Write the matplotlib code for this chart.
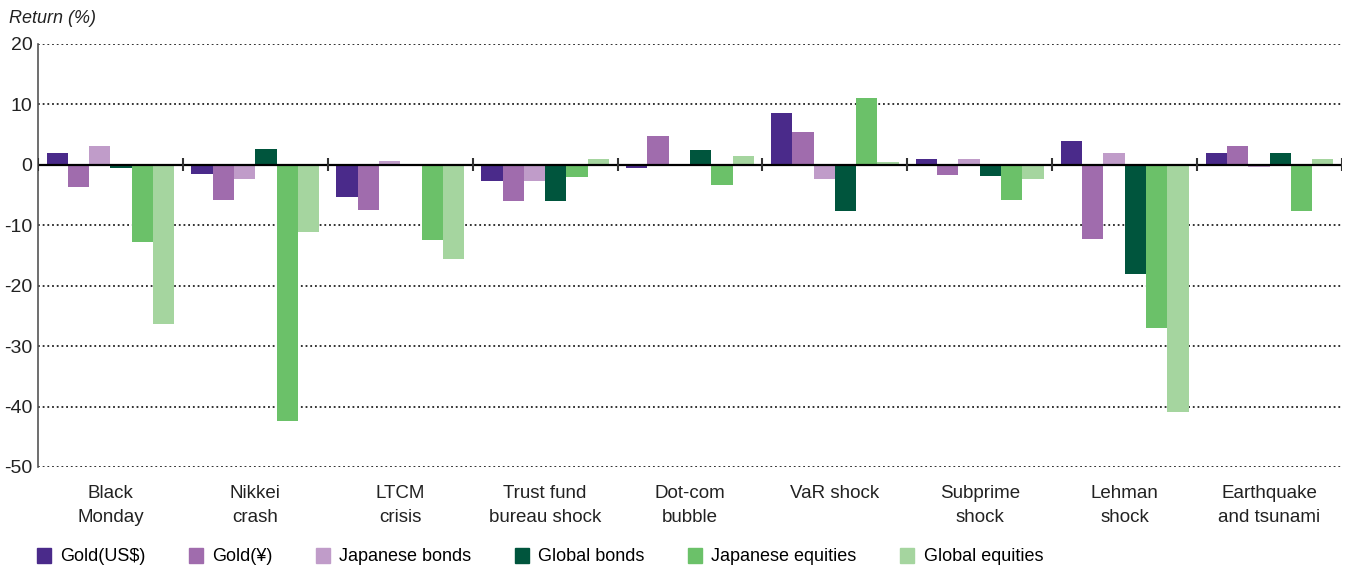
import numpy as np
import matplotlib.pyplot as plt
from matplotlib.patches import Patch

plt.rcParams['font.family'] = ['Liberation Sans', 'DejaVu Sans']
plt.rcParams['axes.unicode_minus'] = False

events = ['Black\nMonday', 'Nikkei\ncrash', 'LTCM\ncrisis', 'Trust fund\nbureau shock',
          'Dot-com\nbubble', 'VaR shock', 'Subprime\nshock', 'Lehman\nshock',
          'Earthquake\nand tsunami']
series = ['Gold(US$)', 'Gold(¥)', 'Japanese bonds', 'Global bonds',
          'Japanese equities', 'Global equities']

gold_usd = [2.0, -1.5, -5.3, -2.7, -0.5, 8.6, 1.0, 3.9, 2.0]
gold_jpy = [-3.7, -5.9, -7.4, -6.0, 4.7, 5.5, -1.6, -12.2, 3.2]
jp_bonds = [3.2, -2.4, 0.7, -2.7, 0.2, -2.4, 1.0, 1.9, -0.3]
gl_bonds = [-0.5, 2.6, 0.2, -6.0, 2.5, -7.7, -1.9, -18.0, 2.0]
jp_equities = [-12.7, -42.4, -12.5, -2.0, -3.4, 11.0, -5.9, -27.0, -7.7]
gl_equities = [-26.4, -11.1, -15.6, 1.0, 1.5, 0.5, -2.4, -40.9, 1.0]

colors = ['#4a2a8a', '#a06cad', '#c09cc9', '#00553d', '#6bc169', '#a5d59f']

fig = plt.figure(figsize=(13.52, 5.69), dpi=100)
ax = fig.add_axes([0.0281, 0.1793, 0.9645, 0.7434])

x = np.arange(len(events))
data = [gold_usd, gold_jpy, jp_bonds, gl_bonds, jp_equities, gl_equities]
w = 0.147
for i, vals in enumerate(data):
    ax.bar(x + (i - 2.5) * w, vals, width=w, color=colors[i], label=series[i], zorder=3)

ax.set_xlim(-0.5, len(events) - 0.5)
ax.set_ylim(-50, 20)
ax.set_yticks(np.arange(-50, 21, 10))
for y in np.arange(-50, 21, 10):
    if y != 0:
        ax.axhline(y, color='#222222', lw=1.3, ls=(0, (1, 1.6)), zorder=1)
ax.axhline(0, color='black', lw=1.6, zorder=4)
ax.vlines(np.arange(len(events) + 1) - 0.5, -1.1, 1.1, color='#333333', lw=1.5, zorder=4)

ax.set_xticks(x)
ax.set_xticklabels(events, fontsize=13.5, color='#222222', linespacing=1.5)
ax.tick_params(axis='x', length=0, pad=13)
ax.tick_params(axis='y', length=0, pad=4, labelsize=14, labelcolor='#222222')
for s in ['top', 'right', 'bottom']:
    ax.spines[s].set_visible(False)
ax.spines['left'].set_color('#555555')
ax.spines['left'].set_linewidth(1.2)

fig.text(0.007, 0.968, 'Return (%)', fontsize=13, style='italic', color='#222222', va='center')

handles = [Patch(color=c) for c in colors]
fig.legend(handles, series, loc='center left', bbox_to_anchor=(0.027, 0.022), ncol=6,
           frameon=False, fontsize=13, handlelength=0.8, handleheight=0.9,
           handletextpad=0.5, columnspacing=2.4, borderaxespad=0, borderpad=0)

fig.savefig('out.png', dpi=100)
